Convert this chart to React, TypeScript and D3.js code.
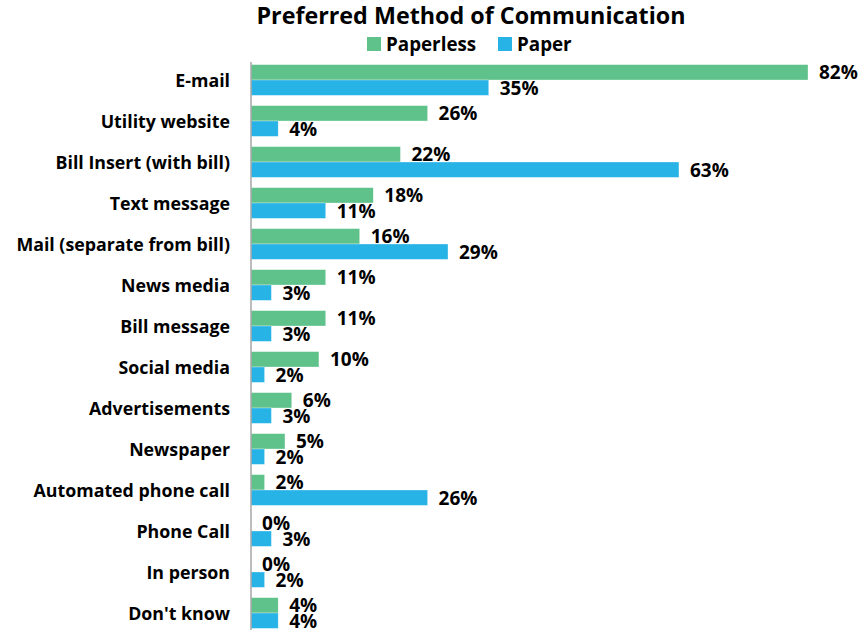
import React from "react";
import * as d3 from "d3";

const categories = [
  "E-mail",
  "Utility website",
  "Bill Insert (with bill)",
  "Text message",
  "Mail (separate from bill)",
  "News media",
  "Bill message",
  "Social media",
  "Advertisements",
  "Newspaper",
  "Automated phone call",
  "Phone Call",
  "In person",
  "Don't know",
];
const paperless = [82, 26, 22, 18, 16, 11, 11, 10, 6, 5, 2, 0, 0, 4];
const paper = [35, 4, 63, 11, 29, 3, 3, 2, 3, 2, 26, 3, 2, 4];
const seriesNames = ["Paperless", "Paper"];
const colors = ["#60C28B", "#28B3E6"];

const W = 861;
const H = 630;
const FONT = "'Open Sans', 'DejaVu Sans', sans-serif";

export default function App() {
  const x = d3.scaleLinear().domain([0, 82]).range([251, 808]);
  const y = d3
    .scaleBand<string>()
    .domain(categories)
    .range([59.5, 633.5])
    .paddingInner(0.25)
    .paddingOuter(0.125);
  const ySub = d3.scaleBand<string>().domain(seriesNames).range([0, y.bandwidth()]);
  const series = [paperless, paper];

  return (
    <svg
      width={W}
      height={H}
      style={{ position: "absolute", left: 0, top: 0, background: "#fff" }}
      fontFamily={FONT}
    >
      <text x={471} y={24} textAnchor="middle" fontSize={23.3} fontWeight={700} fill="#000">
        Preferred Method of Communication
      </text>
      {/* legend */}
      <g>
        <rect x={367} y={37} width={14} height={14} fill={colors[0]} />
        <text x={386} y={44} dominantBaseline="central" fontSize={18.8} fontWeight={700}>
          Paperless
        </text>
        <rect x={498} y={37} width={14} height={14} fill={colors[1]} />
        <text x={517} y={44} dominantBaseline="central" fontSize={18.8} fontWeight={700}>
          Paper
        </text>
      </g>
      {/* bars */}
      {series.map((vals, si) =>
        vals.map((v, i) => {
          const by = (y(categories[i]) as number) + (ySub(seriesNames[si]) as number);
          const bh = ySub.bandwidth();
          return (
            <g key={`${si}-${i}`}>
              <rect
                x={x(0)}
                y={by}
                width={x(v) - x(0)}
                height={bh}
                fill={colors[si]}
                stroke="#ffffff"
                strokeOpacity={0.6}
                strokeWidth={0.5}
              />
              <text
                x={x(v) + 11}
                y={by + bh / 2}
                dominantBaseline="central"
                fontSize={19}
                fontWeight={700}
                fill="#000"
              >
                {v}%
              </text>
            </g>
          );
        })
      )}
      {/* axis line */}
      <line x1={251} x2={251} y1={62} y2={H} stroke="#a6a6a6" strokeWidth={1.5} />
      {/* category labels */}
      {categories.map((c) => (
        <text
          key={c}
          x={230}
          y={(y(c) as number) + y.bandwidth() / 2}
          textAnchor="end"
          dominantBaseline="central"
          fontSize={17.8}
          fontWeight={700}
          fill="#000"
        >
          {c}
        </text>
      ))}
    </svg>
  );
}
